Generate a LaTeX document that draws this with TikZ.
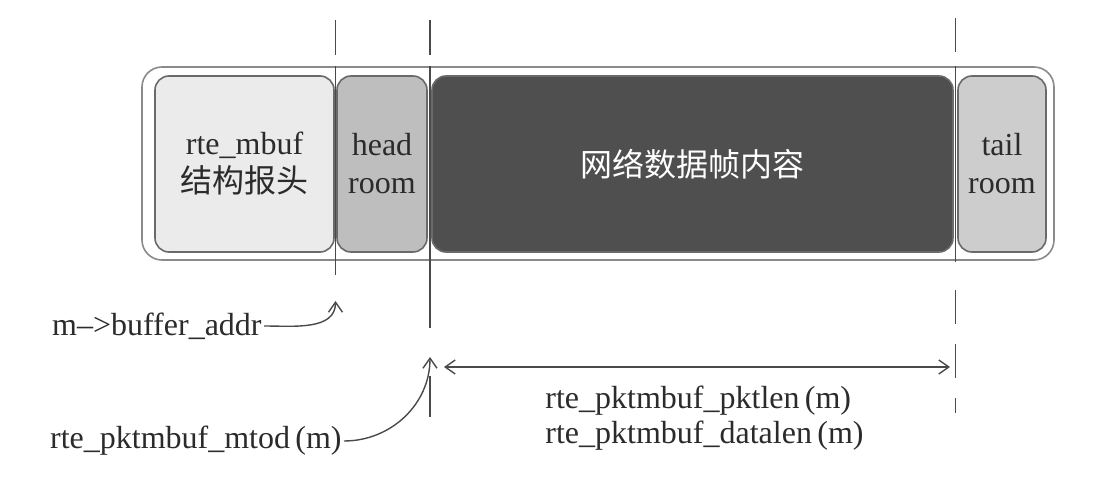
\documentclass[tikz,border=0pt]{standalone}
\usepackage{fontspec}
\setmainfont{Liberation Serif}
\newfontfamily\cjk{Noto Sans CJK SC}
\usepackage{tikz}
\usetikzlibrary{arrows.meta}
\definecolor{linegray}{HTML}{4A4A4A}
\definecolor{framegray}{HTML}{8A8A8A}
\definecolor{boxline}{HTML}{6A6A6A}
\definecolor{textgray}{HTML}{2B2B2B}
\definecolor{mbufcol}{HTML}{EBEBEB}
\definecolor{headcol}{HTML}{BEBEBE}
\definecolor{datacol}{HTML}{4F4F4F}
\definecolor{tailcol}{HTML}{CDCDCD}
\tikzset{>={Straight Barb[length=5pt,width=7pt]}}
\tikzset{
  box/.style={draw=boxline, line width=0.8pt, rounded corners=7pt, minimum height=88pt, inner sep=0pt, align=center, text=textgray},
  guide/.style={draw=linegray, line width=0.7pt},
  lbl/.style={text=textgray, inner sep=1pt}
}

\begin{document}
\begin{tikzpicture}[x=0.5pt,y=-0.5pt,font=\fontsize{16}{19}\selectfont]
                \useasboundingbox (0,0) rectangle (1096,480);

                % outer frame
                \node[draw=framegray, line width=0.8pt, rounded corners=10pt, fill=white, minimum width=456pt, minimum height=96.5pt] (frame) at (598,163.5) {};

                % guide lines, top ticks
                \draw[guide] (335.5,20) -- (335.5,55);
                \draw[guide] (430,20) -- (430,55);
                \draw[guide] (955.5,18) -- (955.5,52);
                % guide lines through the frame
                \draw[guide] (335.5,66) -- (335.5,275);
                \draw[guide] (430,66) -- (430,328);
                \draw[guide] (955.5,66) -- (955.5,262);
                % guide lines below
                \draw[guide] (430,376) -- (430,417);
                \draw[guide, dash pattern=on 17pt off 10pt] (955.5,290) -- (955.5,413);

                % the four parts of the mbuf
                \node[box, fill=mbufcol, minimum width=89.5pt] (mbuf) at (244.5,164) {rte\_mbuf\\{\cjk 结构报头}};
                \node[box, fill=headcol, minimum width=45pt] (head) at (382,164) {head\\room};
                \node[box, fill=datacol, minimum width=260.5pt, text=white] (data) at (692.5,164) {\cjk 网络数据帧内容};
                \node[box, fill=tailcol, minimum width=44pt] (tail) at (1002,164) {tail\\room};

                % end points on the guide lines
                \coordinate (bufaddr) at (335.5,301);
                \coordinate (mtodpt) at (430,357);
                \coordinate (lenl) at (444,367);
                \coordinate (lenr) at (950,367);

                % labels
                \node[lbl, anchor=east] (addr) at (264,326) {m\textendash{}>buffer\_addr};
                \node[lbl, anchor=east] (mtod) at (344,441) {rte\_pktmbuf\_mtod\,(m)};
                \node[lbl, anchor=west] (pktlen) at (543,401) {rte\_pktmbuf\_pktlen\,(m)};
                \node[lbl, anchor=west] (datalen) at (543,436) {rte\_pktmbuf\_datalen\,(m)};

                % m->buffer_addr
                \draw[guide, ->] (addr.east) to[out=0, in=-90] (bufaddr);
                % rte_pktmbuf_mtod(m)
                \draw[guide, ->] (mtod.east) to[out=0, in=-90] (mtodpt);
                % packet length
                \draw[guide, <->] (lenl) -- (lenr);
\end{tikzpicture}
\end{document}
